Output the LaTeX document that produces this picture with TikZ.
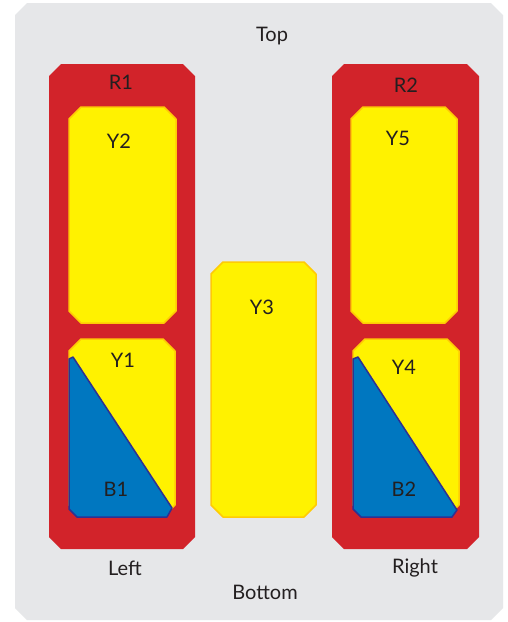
\documentclass[tikz,border=0pt]{standalone}
\usepackage{fontspec}
\setmainfont{Lato}
\definecolor{panelc}{HTML}{E6E7E9}
\definecolor{redc}{HTML}{D2232A}
\definecolor{yelc}{HTML}{FFF200}
\definecolor{yelb}{HTML}{FFCB05}
\definecolor{bluec}{HTML}{0077C0}
\definecolor{blueb}{HTML}{2E3192}
\definecolor{txt}{HTML}{231F20}
\newcommand\chamb[5]{(#1+#5,#2) -- (#3-#5,#2) -- (#3,#2+#5) -- (#3,#4-#5) -- (#3-#5,#4) -- (#1+#5,#4) -- (#1,#4-#5) -- (#1,#2+#5) -- cycle}
\begin{document}
\begin{tikzpicture}[x=1pt,y=-1pt,
  lab/.style={font=\fontsize{20}{24}\selectfont, text=txt, inner sep=0pt, anchor=center},
  panel/.style={fill=panelc},
  redbox/.style={fill=redc},
  yelbox/.style={fill=yelc, draw=yelb, line width=1.5pt, line join=round},
  bluebox/.style={fill=bluec, draw=blueb, line width=1.5pt, line join=round}]
\useasboundingbox (0,0) rectangle (507,622);
\fill[white] (0,0) rectangle (507,622);
\path[panel] \chamb{15}{3}{503}{620}{12};
% red frames
\path[redbox] \chamb{49}{64}{195}{549}{12};
\path[redbox] \chamb{332}{64}{479}{549}{12};
% yellow boxes
\path[yelbox] \chamb{69}{107}{176}{323}{12};
\path[yelbox] \chamb{69}{339}{175}{517}{12};
\path[yelbox] \chamb{351}{107}{457}{323}{12};
\path[yelbox] \chamb{353}{339}{459}{517}{12};
\path[yelbox] \chamb{211}{262}{316}{517}{12};
% blue triangles
\path[bluebox] (69,359) -- (73,357) -- (172,508) -- (167,517) -- (77,517) -- (69,509) -- cycle;
\path[bluebox] (353,359) -- (358,357) -- (457,510) -- (452,517) -- (361,517) -- (353,509) -- cycle;
% labels
\node[lab] (top) at (272,36) {Top};
\node[lab] (r1) at (121,82) {R1};
\node[lab] (r2) at (406,85) {R2};
\node[lab] (y2) at (119,141) {Y2};
\node[lab] (y5) at (398,138) {Y5};
\node[lab] (y3) at (262,307) {Y3};
\node[lab] (y1) at (123,360) {Y1};
\node[lab] (y4) at (404,367) {Y4};
\node[lab] (b1) at (116,489) {B1};
\node[lab] (b2) at (404,489) {B2};
\node[lab] (left) at (125,568) {Left};
\node[lab] (right) at (415,568) {Right};
\node[lab] (bottom) at (265,592) {Bottom};
\end{tikzpicture}
\end{document}
